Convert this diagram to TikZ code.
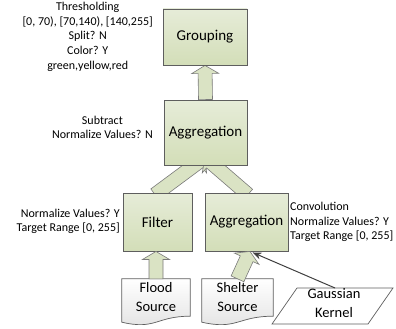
\documentclass[tikz,border=0pt]{standalone}
\usepackage{fontspec}
\setmainfont{Carlito}
\usetikzlibrary{calc,arrows.meta,backgrounds}

\definecolor{boxtop}{HTML}{E6ECD8}
\definecolor{boxbottom}{HTML}{D3DEB8}
\definecolor{boxline}{HTML}{5E5E5E}
\definecolor{arrowfill}{HTML}{DAE3C4}
\definecolor{arrowline}{HTML}{7A7A7A}
\definecolor{docbottom}{HTML}{E2E2E2}
\definecolor{kernelline}{HTML}{3F3F3F}

\tikzset{
  opbox/.style={draw=boxline, line width=0.9pt, top color=boxtop, bottom color=boxbottom,
    inner sep=0pt, font=\fontsize{15}{18.5}\selectfont},
  docnode/.style={minimum height=37pt, inner sep=0pt, align=center,
    font=\fontsize{14.5}{19}\selectfont},
  docline/.style={draw=boxline, line width=0.7pt, top color=white, bottom color=docbottom},
  note/.style={inner sep=0pt, font=\fontsize{12}{14.6}\selectfont},
  fatarrow/.style={draw=arrowline, line width=0.6pt, fill=arrowfill, line join=miter},
  kernelarrow/.style={draw=kernelline, line width=1pt, -{Stealth[length=9pt, width=7pt]}},
}

% block arrow from #1 to #2 (tip)
\newcommand{\blockarrow}[2]{%
  \path (#1) coordinate (ba-s) (#2) coordinate (ba-e);
  \path ($(ba-e)!8pt!(ba-s)$) coordinate (ba-b);
  \filldraw[fatarrow] ($(ba-s)!7pt!90:(ba-e)$) -- ($(ba-b)!7pt!-90:(ba-s)$)
    -- ($(ba-b)!13.5pt!-90:(ba-s)$) -- (ba-e) -- ($(ba-b)!13.5pt!90:(ba-s)$)
    -- ($(ba-b)!7pt!90:(ba-s)$) -- ($(ba-s)!7pt!-90:(ba-e)$) -- cycle;
}

\begin{document}
\begin{tikzpicture}[x=1pt, y=-1pt]
  \useasboundingbox (0,0) rectangle (396,329);

  % operators
  \node[opbox, minimum width=84pt, minimum height=56pt] (grouping) at (205,37) {Grouping};
  \node[opbox, minimum width=83pt, minimum height=65pt] (aggtop) at (205.5,132.5) {Aggregation};
  \node[opbox, minimum width=69pt, minimum height=58pt] (filter) at (157.5,222) {Filter};
  \node[opbox, minimum width=83pt, minimum height=58pt] (aggconv) at (246.5,222) {Aggregation};

  % sources
  \node[docnode, minimum width=68pt] (flood) at (156,297.5) {Flood\\Source};
  \node[docnode, minimum width=71pt] (shelter) at (237.5,297.5) {Shelter\\Source};
  \node[docnode, minimum width=70pt, minimum height=30pt] (gauss) at (334,303) {Gaussian\\Kernel};

  \begin{scope}[on background layer]
    \draw[docline] (flood.north west) -- (flood.north east) -- (flood.south east)
      .. controls (flood.south) and ($(flood.south)+(0,14)$) .. ($(flood.south west)+(0,6)$) -- cycle;
    \draw[docline] (shelter.north west) -- (shelter.north east) -- (shelter.south east)
      .. controls (shelter.south) and ($(shelter.south)+(0,14)$) .. ($(shelter.south west)+(0,6)$) -- cycle;
    \draw[draw=boxline, line width=0.7pt, fill=white] ($(gauss.center)+(-37,-15)$) -- ($(gauss.center)+(59,-15)$)
      -- ($(gauss.center)+(34,21)$) -- ($(gauss.center)+(-62,21)$) -- cycle;
  \end{scope}

  % notes
  \node[note, anchor=east] (threshnote) at (153,37)
    {\begin{tabular}{@{}c@{}}Thresholding\\ {[0, 70), [70,140), [140,255]}\\ Split? N\\ Color? Y\\ green,yellow,red\end{tabular}};
  \node[note, align=center, anchor=east] (subnote) at (153,127.5) {Subtract\\Normalize Values? N};
  \node[note, align=right, anchor=east] (filternote) at (120,221.5) {Normalize Values? Y\\Target Range {[0, 255]}};
  \node[note, align=left, anchor=west] (convnote) at (290,222)
    {Convolution\\Normalize Values? Y\\Target Range {[0, 255]}};

  % flow
  \begin{scope}[on background layer]
    \blockarrow{aggtop.north}{grouping.south}
    \blockarrow{$(filter.north)+(-2.5,2)$}{$(aggtop.south)+(-0.5,-8)$}
    \blockarrow{$(aggconv.north)+(1.5,2)$}{$(aggtop.south)+(-0.5,-8)$}
  \end{scope}
  \blockarrow{flood.north}{flood.north |- filter.south}
  \blockarrow{shelter.north}{$(aggconv.south)+(3.5,0)$}
  \coordinate (gausstop) at ($(gauss.center)+(1,-15)$);
  \coordinate (convtip) at ($(aggconv.south)+(6,1)$);
  \draw[kernelarrow] (gausstop) -- (convtip);
\end{tikzpicture}
\end{document}
